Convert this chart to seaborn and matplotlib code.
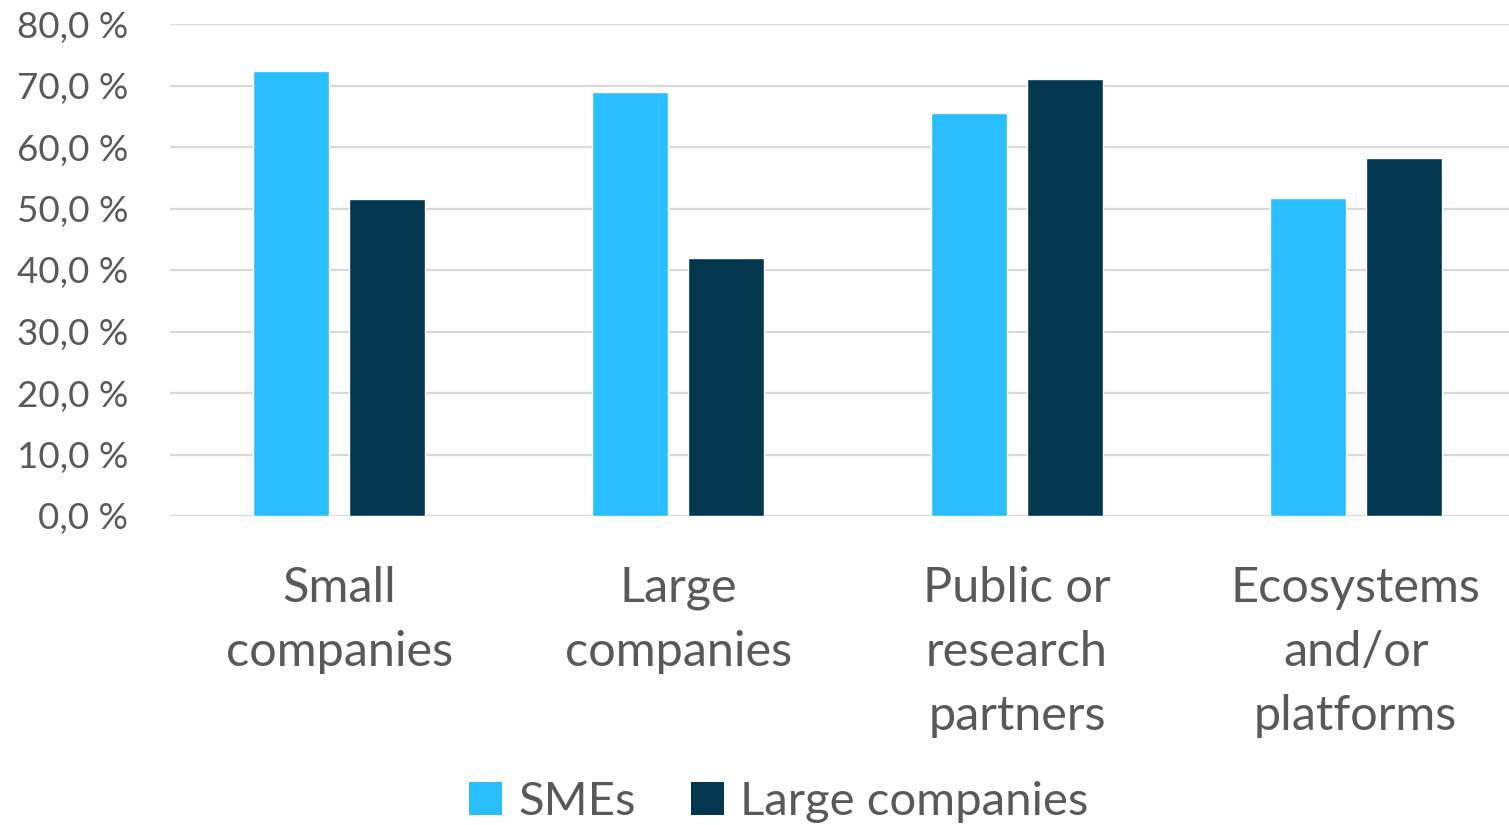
import matplotlib
matplotlib.use('Agg')
import matplotlib.pyplot as plt
import seaborn as sns
import pandas as pd
from matplotlib.patches import Patch
from matplotlib.ticker import FuncFormatter

categories = ['Small\ncompanies', 'Large\ncompanies', 'Public or\nresearch\npartners',
              'Ecosystems\nand/or\nplatforms']
series_names = ['SMEs', 'Large companies']
smes = [72.4, 69.0, 65.5, 51.7]
large = [51.6, 42.0, 71.0, 58.2]
colors = ['#29beff', '#02374f']
yticks = [0, 10, 20, 30, 40, 50, 60, 70, 80]

df = pd.DataFrame({
    'category': categories * 2,
    'group': [series_names[0]] * 4 + [series_names[1]] * 4,
    'value': smes + large,
})

sns.set_theme(style='white')
plt.rcParams['font.family'] = ['Lato', 'DejaVu Sans']
text_col = '#595959'

fig = plt.figure(figsize=(15.09, 8.25), dpi=100)
ax = fig.add_axes([170 / 1509, 1 - 516 / 825, 1355 / 1509, (516 - 24) / 825])

sns.barplot(data=df, x='category', y='value', hue='group', palette=colors,
            width=0.567, gap=0.208, saturation=1, legend=False, ax=ax,
            order=categories, hue_order=series_names, zorder=3)

ax.set_ylim(0, 80)
ax.set_xlim(-0.5, 3.5)
ax.set_yticks(yticks)
ax.yaxis.set_major_formatter(FuncFormatter(lambda v, p: f'{v:.1f} %'.replace('.', ',')))
ax.grid(axis='y', color='#d9d9d9', linewidth=1.6, zorder=0)
ax.set_axisbelow(True)
for s in ['top', 'right', 'left', 'bottom']:
    ax.spines[s].set_visible(False)
ax.tick_params(axis='y', length=0, pad=30, labelsize=26.5, labelcolor=text_col)
ax.tick_params(axis='x', length=0, pad=36, labelsize=35, labelcolor=text_col)
for lbl in ax.get_xticklabels():
    lbl.set_linespacing(1.55)
ax.set_xlabel('')
ax.set_ylabel('')

handles = [Patch(facecolor=c, edgecolor='none') for c in colors]
fig.legend(handles, series_names, loc='center', bbox_to_anchor=(779 / 1509, 1 - 802 / 825),
           ncol=2, frameon=False, fontsize=34, labelcolor=text_col,
           handlelength=0.7, handleheight=0.7, handletextpad=0.35, columnspacing=1.15)

fig.savefig('out.png', dpi=100)
